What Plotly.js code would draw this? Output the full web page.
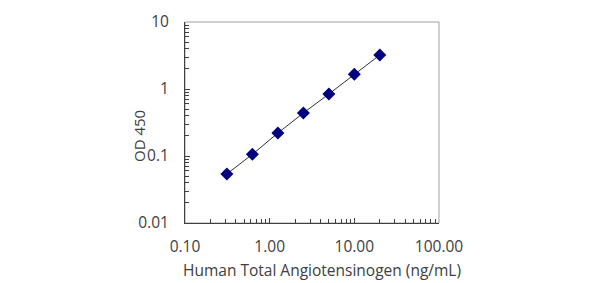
<!DOCTYPE html>
<html>
<head>
<meta charset="utf-8">
<script src="https://cdn.plot.ly/plotly-3.0.1.min.js"></script>
<style>html,body{margin:0;padding:0;background:#fff;}#chart{width:600px;height:283px;}</style>
</head>
<body>
<div id="chart"></div>
<script>
const concentration = [0.3125, 0.625, 1.25, 2.5, 5, 10, 20];
const od450 = [0.054, 0.106, 0.220, 0.438, 0.841, 1.66, 3.22];
const xTickVals = [0.1, 1, 10, 100];
const xTickText = ["0.10", "1.00", "10.00", "100.00"];
const yTickVals = [0.01, 0.1, 1, 10];
const yTickText = ["0.01", "0.1", "1", "10"];
const xTitle = "Human Total Angiotensinogen (ng/mL)";
const yTitle = "OD 450";

const fontFam = "Open Sans, Liberation Sans, sans-serif";
const textColor = "#404040";

const trace = {
  x: concentration,
  y: od450,
  mode: "lines+markers",
  type: "scatter",
  line: {color: "#333333", width: 1},
  marker: {symbol: "diamond", color: "#000080", size: 10, line: {width: 0}},
  hoverinfo: "skip"
};

const layout = {
  width: 600, height: 283,
  margin: {l: 185, r: 161, t: 22, b: 60},
  paper_bgcolor: "#ffffff",
  plot_bgcolor: "#ffffff",
  showlegend: false,
  font: {family: fontFam, color: textColor, size: 15},
  xaxis: {
    type: "log",
    range: [-1, 2],
    tickvals: xTickVals,
    ticktext: xTickText,
    ticks: "inside",
    ticklen: 5,
    tickcolor: "#404040",
    showgrid: false,
    zeroline: false,
    showline: true,
    linecolor: "#404040",
    linewidth: 1,
    ticklabelstandoff: 9,
    minor: {ticks: "inside", ticklen: 4, dtick: "D1", tickcolor: "#404040", showgrid: false},
    tickfont: {size: 15.5, color: textColor}
  },
  yaxis: {
    type: "log",
    range: [-2, 1],
    tickvals: yTickVals,
    ticktext: yTickText,
    ticks: "inside",
    ticklen: 5,
    tickcolor: "#404040",
    showgrid: false,
    zeroline: false,
    showline: true,
    linecolor: "#404040",
    linewidth: 1,
    ticklabelstandoff: 12,
    minor: {ticks: "inside", ticklen: 4, dtick: "D1", tickcolor: "#404040", showgrid: false},
    tickfont: {size: 15.5, color: textColor}
  },
  annotations: [
    {text: xTitle, xref: "paper", yref: "paper", x: 0.539, y: -0.234,
     xanchor: "center", yanchor: "middle", showarrow: false,
     font: {size: 15.5, color: textColor}},
    {text: yTitle, xref: "paper", yref: "paper", x: -0.181, y: 0.433,
     xanchor: "center", yanchor: "middle", showarrow: false, textangle: -90,
     font: {size: 15, color: textColor}}
  ],
  shapes: [{
    type: "rect", xref: "paper", yref: "paper", x0: 0, x1: 1, y0: 0, y1: 1,
    line: {color: "#a0a0a0", width: 1}, layer: "below"
  }]
};

Plotly.newPlot("chart", [trace], layout, {staticPlot: true, displayModeBar: false});
</script>
</body>
</html>
